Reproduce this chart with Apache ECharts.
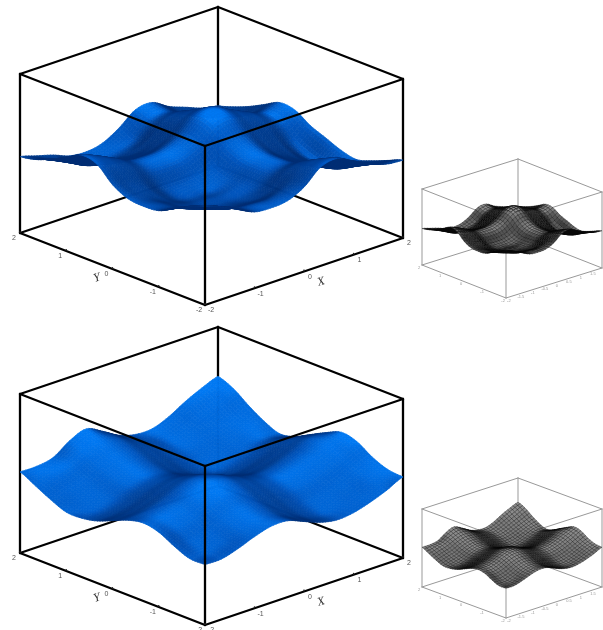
<!DOCTYPE html>
<html>
	<head>
		<meta charset="utf-8">
		<title>surfaces</title>
		<script src="https://cdn.jsdelivr.net/npm/echarts@6/dist/echarts.min.js"></script>
		<style>
			html,body{margin:0;padding:0;background:#fff}
			#x{width:603px;height:630px;filter:blur(0.7px)}
		</style>
	</head>
	<body>
		<div id="x"></div>
	</body>

	<script type="text/javascript">
		// heights, % of box height
		// rows: Y from -2 to 2, columns: X from -2 to 2
		var surfaceUpper=[
			[62,58,53,48,47,48,53,62,64,59,54,50,49],
			[58,55,51,47,46,46,50,58,60,55,50,46,45],
			[53,51,47,42,41,41,45,53,55,50,45,41,41],
			[48,46,42,39,38,38,41,48,50,45,40,36,38],
			[47,45,41,38,37,37,40,47,49,44,39,35,40],
			[48,45,41,37,36,36,40,48,50,45,40,36,44],
			[53,49,45,40,39,40,44,53,55,50,45,41,48],
			[62,58,53,48,47,48,53,62,64,59,54,50,54],
			[64,60,55,50,49,50,55,64,66,61,56,52,55],
			[59,55,50,45,44,45,50,59,61,56,51,47,50],
			[54,50,45,40,39,40,45,54,56,51,46,42,45],
			[50,46,41,36,35,37,41,50,52,47,42,39,41],
			[48,45,42,38,37,39,45,53,54,48,44,40,38]
		];
		var surfaceLower=[
			[38,38,41,45,48,48,44,40,38,39,42,46,51],
			[38,38,41,46,49,48,44,40,38,40,44,49,52],
			[42,41,44,49,52,51,47,43,41,43,47,52,56],
			[47,46,49,54,57,56,52,48,46,48,52,57,62],
			[49,49,52,57,60,59,55,51,49,51,55,60,64],
			[47,48,51,56,59,58,54,50,48,50,54,59,60],
			[43,44,47,52,55,54,50,46,44,46,50,55,55],
			[39,40,43,48,51,50,46,42,40,42,46,51,50],
			[37,38,41,46,49,48,44,40,38,40,44,48,48],
			[37,40,43,48,51,50,46,42,40,42,46,50,52],
			[41,44,47,52,55,54,50,46,44,46,50,54,58],
			[46,49,52,57,60,58,53,49,47,50,55,60,65],
			[51,51,53,60,64,59,53,50,50,54,60,65,69]
		];
		var xTicks=[-2,-1,0,1,2];
		var yTicks=[-2,-1,0,1,2];
		var xTicksSmall=[-2,-1.5,-1,-0.5,0,0.5,1,1.5,2];

		// box edges as [x0,y0,z0,x1,y1,z1] in box units
		var backEdges=[
			[0,1,1,1,1,1],[1,0,1,1,1,1],[1,1,0,1,1,1],
			[0,1,0,1,1,0],[1,0,0,1,1,0],
			[0,1,0,0,1,1],[1,0,0,1,0,1]
		];
		var frontEdges=[
			[0,1,1,0,0,1],[1,0,1,0,0,1],[0,0,0,0,0,1],
			[0,0,0,1,0,0],[0,0,0,0,1,0]
		];

		var panels={
			upper:{fx:205,fy:305,ax:198,ay:-67,bx:-185,by:-72,hz:159},
			lower:{fx:205,fy:625,ax:198,ay:-67,bx:-185,by:-72,hz:159},
			upperSmall:{fx:506,fy:298,ax:96,ay:-30,bx:-84,by:-33,hz:76},
			lowerSmall:{fx:506,fy:618,ax:96,ay:-31,bx:-84,by:-31,hz:78}
		};

		function project(p,a,b,h,api){
			return api.coord([p.fx+a*p.ax+b*p.bx, p.fy+a*p.ay+b*p.by-h*p.hz]);
		}

		function cr(p0,p1,p2,p3,t){
			return 0.5*(2*p1+(p2-p0)*t+(2*p0-5*p1+4*p2-p3)*t*t+(3*p1-p0-3*p2+p3)*t*t*t);
		}
		function at(g,j,i){
			j=Math.max(0,Math.min(g.length-1,j));
			i=Math.max(0,Math.min(g[0].length-1,i));
			return g[j][i];
		}
		// smooth height inside one cell, fractions of box height
		function patch(g,j,i,u,v){
			var r=[];
			for(var k=-1;k<3;k++){
				r.push(cr(at(g,j+k,i-1),at(g,j+k,i),at(g,j+k,i+1),at(g,j+k,i+2),u));
			}
			return cr(r[0],r[1],r[2],r[3],v)/100;
		}

		var light=[-0.30,-0.35,0.89];
		function shade(g,j,i,u,v){
			var e=0.1, n=g.length-1;
			var da=(patch(g,j,i,u+e,v)-patch(g,j,i,u-e,v))/(2*e)*n*1.5;
			var db=(patch(g,j,i,u,v+e)-patch(g,j,i,u,v-e))/(2*e)*n*1.5;
			var l=Math.sqrt(da*da+db*db+1);
			return (-da*light[0]-db*light[1]+light[2])/l+0.8*(patch(g,j,i,u,v)-0.5);
		}
		function mix(c0,c1,t){
			return 'rgb('+[0,1,2].map(function(k){return Math.round(c0[k]+(c1[k]-c0[k])*t)}).join(',')+')';
		}
		function blueOf(s){
			var t=Math.max(0,Math.min(1,(s-0.42)/0.62));
			if(t<0.6){return mix([0,46,116],[0,84,188],t/0.6);}
			return mix([0,84,188],[0,120,242],(t-0.6)/0.4);
		}
		function greyOf(s){
			var t=Math.max(0,Math.min(1,(s-0.45)/0.55));
			return mix([8,8,8],[140,140,140],t);
		}

		function cellList(g){
			// back to front so nearer cells cover farther ones
			var out=[];
			for(var j=g.length-2;j>=0;j--){
				for(var i=g[0].length-2;i>=0;i--){ out.push([j,i]); }
			}
			return out;
		}

		function surfaceSeries(g,p,sub,small,z){
			return {
				type:'custom',coordinateSystem:'cartesian2d',silent:true,animation:false,z:z,
				data:cellList(g),clip:false,
				renderItem:function(params,api){
					var j=api.value(0), i=api.value(1), n=g.length-1, kids=[];
					for(var vk=sub-1;vk>=0;vk--){
						for(var uk=sub-1;uk>=0;uk--){
							var pts=[], c=[[0,0],[1,0],[1,1],[0,1]];
							for(var q=0;q<4;q++){
								var u=(uk+c[q][0])/sub, v=(vk+c[q][1])/sub;
								pts.push(project(p,(i+u)/n,(j+v)/n,patch(g,j,i,u,v),api));
							}
							var s=shade(g,j,i,(uk+0.5)/sub,(vk+0.5)/sub);
							var col=small?greyOf(s):blueOf(s);
							kids.push({type:'polygon',shape:{points:pts},style:{
								fill:col,stroke:small?'#080808':col,lineWidth:small?0.35:0.7}});
						}
					}
					return {type:'group',children:kids};
				}
			};
		}

		function edgeSeries(edges,p,color,width,z){
			return {
				type:'custom',coordinateSystem:'cartesian2d',silent:true,animation:false,z:z,
				data:edges,clip:false,
				renderItem:function(params,api){
					var a=project(p,api.value(0),api.value(1),api.value(2),api);
					var b=project(p,api.value(3),api.value(4),api.value(5),api);
					return {type:'line',shape:{x1:a[0],y1:a[1],x2:b[0],y2:b[1]},
						style:{stroke:color,lineWidth:width,lineCap:'round'}};
				}
			};
		}

		// ticks and labels along the two front bottom edges
		function labelSeries(xs,ys,p,size,color,tick,z){
			var rows=[];
			xs.forEach(function(v){rows.push([0,v]);});
			ys.forEach(function(v){rows.push([1,v]);});
			return {
				type:'custom',coordinateSystem:'cartesian2d',silent:true,animation:false,z:z,
				data:rows,clip:false,
				renderItem:function(params,api){
					var isY=api.value(0)==1, t=(api.value(1)+2)/4;
					var q=isY?project(p,0,t,0,api):project(p,t,0,0,api);
					var k=p.hz/159;
					var kids=[{type:'text',x:q[0]+(isY?-6:6)*k,y:q[1]+5.5*k,style:{
						text:String(api.value(1)),fontSize:size,fill:color,fontFamily:'Liberation Sans',
						align:'center',verticalAlign:'middle'}}];
					if(tick){
						var q2=isY?project(p,0,t,0.012,api):project(p,t,0,0.012,api);
						kids.push({type:'line',shape:{x1:q[0],y1:q[1],x2:q2[0],y2:q2[1]},style:{stroke:'#222',lineWidth:1.2}});
					}
					return {type:'group',children:kids};
				}
			};
		}
		function axisName(p,a,b,text,rot){
			return {
				type:'custom',coordinateSystem:'cartesian2d',silent:true,animation:false,z:9,
				data:[[a,b]],clip:false,
				renderItem:function(params,api){
					var q=project(p,api.value(0),api.value(1),0,api);
					return {type:'text',x:q[0],y:q[1],rotation:rot,style:{text:text,fontSize:12,fill:'#333',
						fontFamily:'Liberation Serif',fontStyle:'italic',align:'center',verticalAlign:'middle'}};
				}
			};
		}

		var series=[];
		[['upper',surfaceUpper],['lower',surfaceLower]].forEach(function(m){
			var p=panels[m[0]];
			series.push(edgeSeries(backEdges,p,'#000',2.3,1));
			series.push(surfaceSeries(m[1],p,6,false,2));
			series.push(edgeSeries(frontEdges,p,'#000',2.3,3));
			series.push(labelSeries(xTicks,yTicks,p,7,'#555',true,4));
			series.push(axisName(p,0.473,-0.121,'X',0.3));
			series.push(axisName(p,-0.104,0.472,'Y',0.3));
		});
		[['upperSmall',surfaceUpper],['lowerSmall',surfaceLower]].forEach(function(m){
			var p=panels[m[0]];
			series.push(edgeSeries(backEdges.concat(frontEdges),p,'#999',1,1));
			series.push(surfaceSeries(m[1],p,3,true,2));
			series.push(labelSeries(xTicksSmall,yTicks,p,4,'#999',false,4));
		});

		var option={
			backgroundColor:'#fff',
			animation:false,
			grid:{left:0,right:0,top:0,bottom:0},
			xAxis:{type:'value',min:0,max:603,show:false},
			yAxis:{type:'value',min:0,max:630,inverse:true,show:false},
			series:series
		};
		var chart=echarts.init(document.getElementById('x'),null,{renderer:'canvas'});
		chart.setOption(option);
	</script>
</html>
